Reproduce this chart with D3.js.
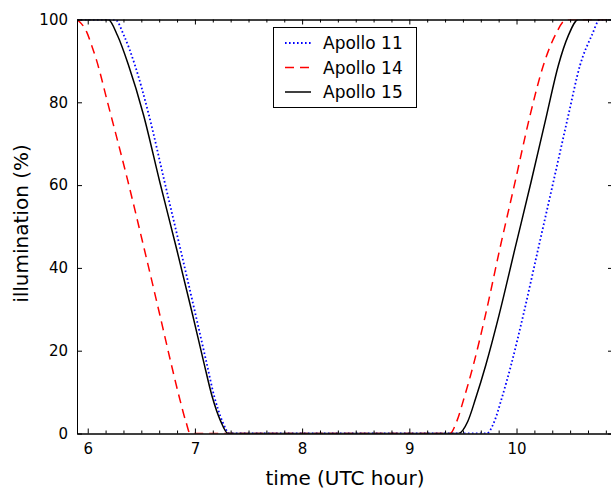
<!DOCTYPE html>
<html><head><meta charset="utf-8">
<script src="https://cdn.jsdelivr.net/npm/d3@7"></script>
<style>body{margin:0;background:#fff}svg{display:block}text{font-family:"DejaVu Sans",sans-serif;fill:#000}</style>
</head><body>
<script>
// Data: time in UTC hours, illumination in %
const apollo11Times  = [5.9, 6.255, 6.34, 6.44, 6.57, 6.715, 6.865, 7.008, 7.105, 7.18, 7.255, 7.325, 9.722, 9.793, 9.862, 9.949, 10.063, 10.203, 10.343, 10.483, 10.592, 10.701, 10.779, 10.9];
const apollo11Values = [100, 100, 96, 89, 77, 61, 44.5, 28.5, 17.5, 9, 3, 0, 0, 2.9, 8.5, 16.5, 28.6, 44.7, 60.7, 76.8, 88.9, 96.1, 100, 100];
const apollo14Times  = [5.9, 5.99, 6.04, 6.084, 6.185, 6.379, 6.528, 6.674, 6.777, 6.852, 6.92, 6.955, 9.38, 9.442, 9.51, 9.597, 9.71, 9.845, 9.986, 10.126, 10.25, 10.359, 10.468, 10.9];
const apollo14Values = [100, 97, 93.5, 90, 80, 60.5, 44.5, 28.5, 17, 9, 2.5, 0, 0, 2.9, 8.5, 16.5, 28.6, 44.7, 60.7, 76.8, 88.9, 96.1, 100, 100];
const apollo15Times  = [5.9, 6.19, 6.28, 6.38, 6.52, 6.67, 6.83, 6.98, 7.08, 7.16, 7.24, 7.31, 9.457, 9.545, 9.619, 9.713, 9.837, 9.986, 10.135, 10.28, 10.39, 10.483, 10.577, 10.9];
const apollo15Values = [100, 100, 96, 89, 77, 61, 44.5, 28.5, 17.5, 9, 3, 0, 0, 2.9, 8.5, 16.5, 28.6, 44.7, 60.7, 76.8, 88.9, 96.1, 100, 100];
const seriesNames = ["Apollo 11", "Apollo 14", "Apollo 15"];
const xTicks = [6, 7, 8, 9, 10];
const yTicks = [0, 20, 40, 60, 80, 100];

const W = 611, H = 489;
const L = 77, R = 613, T = 19.5, B = 433.5;
const svg = d3.select("body").append("svg").attr("width", W).attr("height", H);
const x = d3.scaleLinear().domain([5.9, 10.9]).range([L, R]);
const y = d3.scaleLinear().domain([0, 100]).range([B, T]);

const series = [
  {name: seriesNames[0], t: apollo11Times, v: apollo11Values, color: "#0000ff", dash: "1.6,2.4", w: 1.8},
  {name: seriesNames[1], t: apollo14Times, v: apollo14Values, color: "#ff0000", dash: "9,6", w: 1.5},
  {name: seriesNames[2], t: apollo15Times, v: apollo15Values, color: "#000000", dash: null, w: 1.5}
];

svg.append("defs").append("clipPath").attr("id", "clip")
  .append("rect").attr("x", L).attr("y", T).attr("width", R - L).attr("height", B - T);

const line = d3.line().x(d => x(d[0])).y(d => y(d[1])).curve(d3.curveMonotoneX);
const g = svg.append("g").attr("clip-path", "url(#clip)");
series.forEach(s => {
  g.append("path").datum(s.t.map((t, i) => [t, s.v[i]]))
    .attr("d", line).attr("fill", "none").attr("stroke", s.color)
    .attr("stroke-width", s.w).attr("stroke-dasharray", s.dash);
});

// Axes (ticks pointing inward, minor ticks every 10 minutes)
const minorTicks = d3.range(0, 31).map(i => 35/6 + i/6)
  .filter(v => v > 5.9 && v < 10.9 && !xTicks.some(m => Math.abs(m - v) < 1e-6));
const axB = svg.append("g").attr("transform", `translate(0,${B})`)
  .call(d3.axisBottom(x).tickValues(xTicks).tickSizeInner(-5).tickSizeOuter(0).tickPadding(12).tickFormat(d3.format("d")));
const axBm = svg.append("g").attr("transform", `translate(0,${B})`)
  .call(d3.axisBottom(x).tickValues(minorTicks).tickSizeInner(-3).tickSizeOuter(0).tickFormat(""));
const axT = svg.append("g").attr("transform", `translate(0,${T})`)
  .call(d3.axisTop(x).tickValues(xTicks).tickSizeInner(-5).tickSizeOuter(0).tickFormat(""));
const axTm = svg.append("g").attr("transform", `translate(0,${T})`)
  .call(d3.axisTop(x).tickValues(minorTicks).tickSizeInner(-3).tickSizeOuter(0).tickFormat(""));
const axL = svg.append("g").attr("transform", `translate(${L},0)`)
  .call(d3.axisLeft(y).tickValues(yTicks).tickSizeInner(-5).tickSizeOuter(0).tickPadding(9));
const axR = svg.append("g").attr("transform", `translate(${R},0)`)
  .call(d3.axisRight(y).tickValues(yTicks).tickSizeInner(-5).tickSizeOuter(0).tickFormat(""));
[axB, axBm, axT, axTm, axL, axR].forEach(a => {
  a.select(".domain").attr("stroke", "#000").attr("stroke-width", 1);
  a.selectAll(".tick line").attr("stroke", "#000").attr("stroke-width", 1);
  a.selectAll("text").style("font-family", '"DejaVu Sans", sans-serif').style("font-size", "15px").attr("fill", "#000");
});
axB.selectAll(".tick text").attr("y", 10);

// Axis labels
svg.append("text").attr("x", (L + R) / 2).attr("y", 484.5).attr("text-anchor", "middle")
  .style("font-size", "20px").text("time (UTC hour)");
svg.append("text").attr("transform", `translate(28,${(T + B) / 2 - 3}) rotate(-90)`).attr("text-anchor", "middle")
  .style("font-size", "20px").text("illumination (%)");

// Legend
const lg = svg.append("g");
lg.append("rect").attr("x", 273.5).attr("y", 27.5).attr("width", 143).attr("height", 80)
  .attr("fill", "#fff").attr("stroke", "#000").attr("stroke-width", 1);
series.forEach((s, i) => {
  const cy = 43 + i * 24.5;
  lg.append("line").attr("x1", 285).attr("x2", 311).attr("y1", cy).attr("y2", cy)
    .attr("stroke", s.color).attr("stroke-width", s.w).attr("stroke-dasharray", s.dash);
  lg.append("text").attr("x", 323).attr("y", cy).attr("dy", "0.36em")
    .style("font-size", "17px").text(s.name);
});
</script>
</body></html>
